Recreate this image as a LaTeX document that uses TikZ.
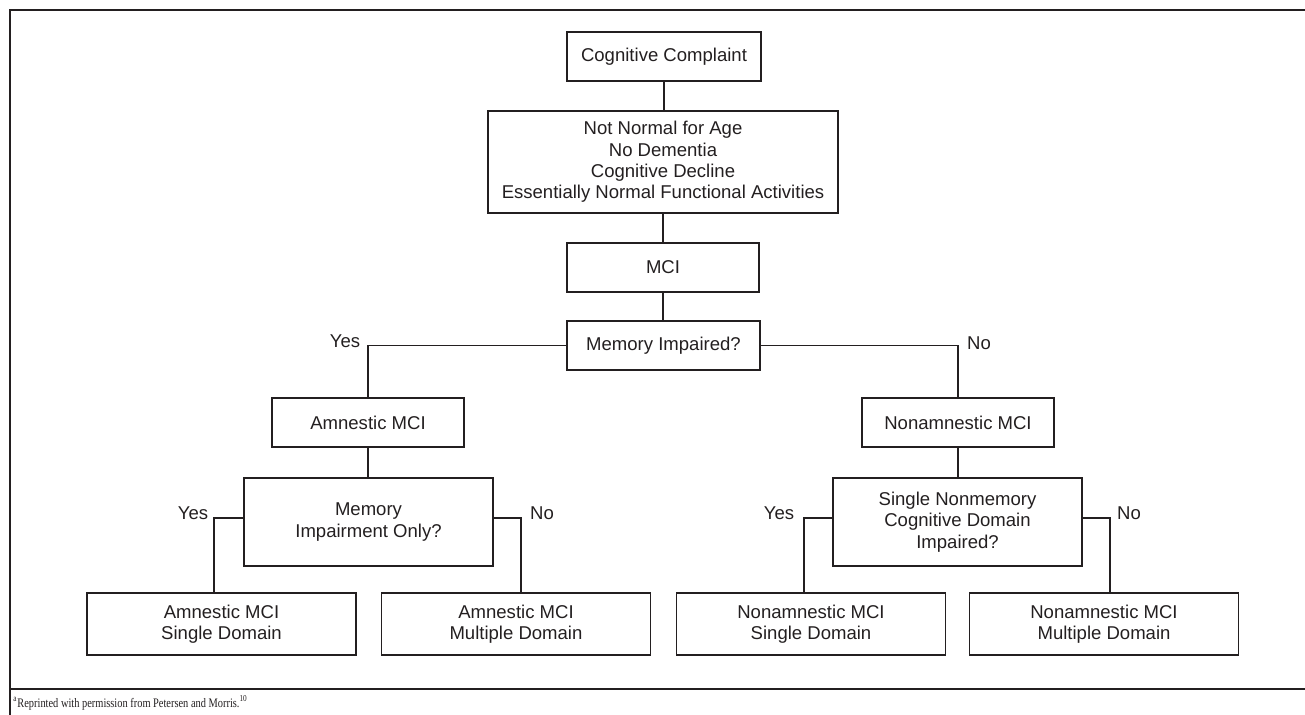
\documentclass[tikz,border=0pt]{standalone}
\usepackage{fontspec}
\setmainfont{Liberation Sans}
\newfontfamily\fnserif{Liberation Serif}
\definecolor{ink}{RGB}{35,31,32}
\begin{document}
\begin{tikzpicture}[x=0.5pt,y=-0.5pt,
  box/.style={draw=ink,line width=0.6pt,rectangle,align=center,inner sep=0pt,text=ink,
    font=\fontsize{9.27}{10.65}\selectfont},
  small/.style={box,minimum width=96pt,minimum height=24.5pt},
  quest/.style={box,minimum width=124.5pt,minimum height=44pt},
  leaf/.style={box,minimum width=134.5pt,minimum height=31pt},
  lab/.style={text=ink,inner sep=0pt,font=\fontsize{9.27}{10.65}\selectfont},
  conn/.style={draw=ink,line width=0.6pt}]
\useasboundingbox (0,0) rectangle (1305,715);
% frame
\draw[ink,line width=0.9pt] (1310,10) -- (10,10) -- (10,720);
\draw[ink,line width=0.7pt] (10,689) -- (1310,689);
% nodes
\node[box,minimum width=97pt,minimum height=24.5pt] (cc) at (664,56.5) {Cognitive Complaint};
\node[box,minimum width=175pt,minimum height=51pt] (nn) at (663,162)
  {Not Normal for Age\\No Dementia\\Cognitive Decline\\Essentially Normal Functional Activities};
\node[small] (mci) at (663,267.5) {MCI};
\node[small,minimum width=96.5pt] (mi) at (663.5,345.5) {Memory Impaired?};
\node[small] (am) at (368,422.5) {Amnestic MCI};
\node[small] (nam) at (958,422.5) {Nonamnestic MCI};
\node[quest] (mio) at (368.5,522) {Memory\\Impairment Only?};
\node[quest] (snm) at (957.5,522) {Single Nonmemory\\Cognitive Domain\\Impaired?};
\node[leaf] (b1) at (221.5,624) {Amnestic MCI\\Single Domain};
\node[leaf] (b2) at (516,624) {Amnestic MCI\\Multiple Domain};
\node[leaf] (b3) at (811,624) {Nonamnestic MCI\\Single Domain};
\node[leaf] (b4) at (1104,624) {Nonamnestic MCI\\Multiple Domain};
% connector end points
\coordinate (t1) at (214,593);
\coordinate (t2) at (521,593);
\coordinate (t3) at (804,593);
\coordinate (t4) at (1110,593);
% connectors
\draw[conn] (cc.south) -- (cc.south |- nn.north);
\draw[conn] (nn.south) -- (nn.south |- mci.north);
\draw[conn] (mci.south) -- (mci.south |- mi.north);
\draw[conn] (mi.west) -| (am.north);
\draw[conn] (mi.east) -| (nam.north);
\draw[conn] (am.south) -- (am.south |- mio.north);
\draw[conn] (nam.south) -- (nam.south |- snm.north);
\draw[conn] ([yshift=2pt]mio.west) -| (t1);
\draw[conn] ([yshift=2pt]mio.east) -| (t2);
\draw[conn] ([yshift=2pt]snm.west) -| (t3);
\draw[conn] ([yshift=2pt]snm.east) -| (t4);
% labels
\node[lab] (y1) at (345,341) {Yes};
\node[lab] (n1) at (979,343) {No};
\node[lab] (y2) at (193,513) {Yes};
\node[lab] (n2) at (542,513) {No};
\node[lab] (y3) at (779,513) {Yes};
\node[lab] (n3) at (1129,513) {No};
% footnote
\node[anchor=base west,inner sep=0pt,text=ink] (fn) at (13,707)
  {\scalebox{0.8}[1]{\fnserif\fontsize{6.5}{8}\selectfont\textsuperscript{a}Reprinted with permission from Petersen and Morris.\textsuperscript{10}}};
\end{tikzpicture}
\end{document}
